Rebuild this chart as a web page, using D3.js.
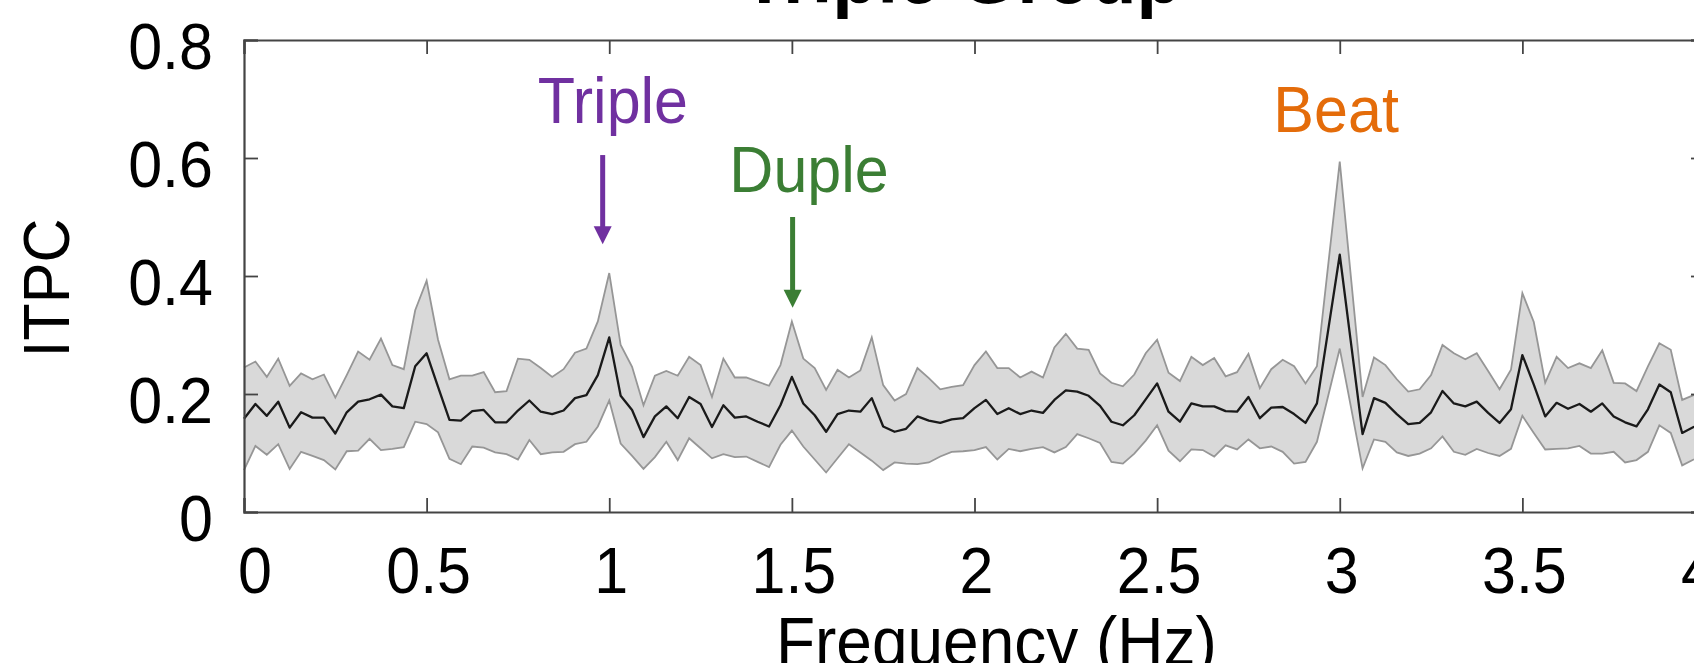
<!DOCTYPE html>
<html>
<head>
<meta charset="utf-8">
<script src="https://cdn.jsdelivr.net/npm/d3@7"></script>
<style>
  html, body { margin: 0; padding: 0; background: #fff; overflow: hidden; }
  svg { display: block; }
</style>
</head>
<body>
<svg id="chart" width="1694" height="663"></svg>
<script>
// ITPC spectrum, Triple group. One sample every 1/32 Hz from 0 to 4 Hz.
const freqStep = 1 / 32;

const itpcMean = [
  0.158, 0.183, 0.163, 0.187, 0.143, 0.169, 0.160, 0.160, 0.133, 0.169,
  0.187, 0.191, 0.199, 0.179, 0.176, 0.247, 0.269, 0.212, 0.156, 0.155,
  0.171, 0.173, 0.152, 0.152, 0.172, 0.189, 0.170, 0.166, 0.172, 0.193,
  0.198, 0.232, 0.296, 0.197, 0.173, 0.127, 0.162, 0.179, 0.159, 0.195,
  0.183, 0.144, 0.181, 0.160, 0.162, 0.153, 0.145, 0.181, 0.229, 0.184,
  0.164, 0.136, 0.166, 0.172, 0.170, 0.193, 0.145, 0.136, 0.141, 0.162,
  0.155, 0.151, 0.157, 0.159, 0.176, 0.190, 0.166, 0.176, 0.166, 0.172,
  0.168, 0.190, 0.206, 0.204, 0.197, 0.180, 0.153, 0.147, 0.164, 0.191,
  0.218, 0.170, 0.153, 0.184, 0.179, 0.179, 0.171, 0.170, 0.195, 0.159,
  0.177, 0.178, 0.166, 0.151, 0.184, 0.310, 0.436, 0.284, 0.132, 0.193,
  0.185, 0.166, 0.149, 0.151, 0.169, 0.205, 0.184, 0.179, 0.187, 0.168,
  0.151, 0.174, 0.266, 0.216, 0.162, 0.185, 0.175, 0.183, 0.170, 0.184,
  0.162, 0.152, 0.145, 0.174, 0.216, 0.203, 0.134, 0.144, 0.150
];

const itpcUpper = [
  0.245, 0.255, 0.229, 0.260, 0.214, 0.235, 0.225, 0.233, 0.194, 0.232,
  0.272, 0.258, 0.294, 0.249, 0.242, 0.342, 0.392, 0.292, 0.225, 0.231,
  0.231, 0.237, 0.203, 0.205, 0.260, 0.258, 0.244, 0.229, 0.242, 0.270,
  0.277, 0.323, 0.405, 0.283, 0.246, 0.181, 0.231, 0.239, 0.231, 0.263,
  0.249, 0.195, 0.260, 0.228, 0.228, 0.221, 0.214, 0.249, 0.323, 0.260,
  0.244, 0.207, 0.241, 0.228, 0.240, 0.296, 0.215, 0.189, 0.200, 0.244,
  0.227, 0.208, 0.212, 0.215, 0.249, 0.272, 0.244, 0.244, 0.228, 0.238,
  0.228, 0.279, 0.302, 0.277, 0.275, 0.235, 0.219, 0.213, 0.233, 0.269,
  0.292, 0.236, 0.222, 0.263, 0.249, 0.261, 0.230, 0.237, 0.268, 0.210,
  0.242, 0.258, 0.247, 0.218, 0.247, 0.421, 0.594, 0.394, 0.195, 0.262,
  0.249, 0.225, 0.204, 0.208, 0.232, 0.283, 0.269, 0.259, 0.269, 0.239,
  0.208, 0.241, 0.371, 0.322, 0.219, 0.263, 0.244, 0.252, 0.244, 0.274,
  0.219, 0.218, 0.205, 0.247, 0.286, 0.275, 0.190, 0.198, 0.205
];

const itpcLower = [
  0.071, 0.112, 0.097, 0.115, 0.073, 0.102, 0.095, 0.088, 0.072, 0.103,
  0.104, 0.124, 0.105, 0.107, 0.110, 0.153, 0.149, 0.135, 0.090, 0.081,
  0.111, 0.109, 0.101, 0.098, 0.089, 0.122, 0.098, 0.101, 0.102, 0.115,
  0.119, 0.145, 0.189, 0.116, 0.095, 0.073, 0.093, 0.119, 0.088, 0.125,
  0.108, 0.091, 0.098, 0.093, 0.094, 0.085, 0.076, 0.114, 0.138, 0.111,
  0.089, 0.067, 0.091, 0.115, 0.101, 0.087, 0.071, 0.084, 0.082, 0.081,
  0.084, 0.094, 0.102, 0.103, 0.105, 0.110, 0.089, 0.107, 0.103, 0.107,
  0.110, 0.101, 0.110, 0.132, 0.125, 0.117, 0.085, 0.082, 0.099, 0.121,
  0.147, 0.104, 0.086, 0.106, 0.105, 0.094, 0.113, 0.106, 0.123, 0.108,
  0.111, 0.102, 0.082, 0.085, 0.119, 0.198, 0.277, 0.176, 0.074, 0.123,
  0.119, 0.101, 0.095, 0.099, 0.108, 0.128, 0.102, 0.097, 0.107, 0.100,
  0.095, 0.107, 0.163, 0.134, 0.106, 0.107, 0.108, 0.112, 0.099, 0.099,
  0.102, 0.084, 0.088, 0.102, 0.147, 0.134, 0.079, 0.089, 0.095
];

const xTicks = [0, 0.5, 1, 1.5, 2, 2.5, 3, 3.5, 4];
const yTicks = [0, 0.2, 0.4, 0.6, 0.8];

// annotations: label, colour, text position (Hz, ITPC), arrow (Hz, from, to) or null
const annoLabels = ["Triple", "Duple", "Beat"];
const annoColors = ["#7030a0", "#3b7e34", "#e46c0a"];
const annoTextHz = [1.01, 1.547, 2.99];
const annoTextY = [0.66, 0.542, 0.644];
const annoArrowHz = [0.982, 1.502, null];
const annoArrowFrom = [0.605, 0.5, null];
const annoArrowTo = [0.454, 0.346, null];

const font = "'Liberation Sans', Arial, Helvetica, sans-serif";
const stretch = 1.06; // source figure text is a bit taller than it is wide

const svg = d3.select("#chart");

// plot box runs past the right edge of the window, as in the source picture
const x = d3.scaleLinear().domain([0, 4]).range([244, 1705]);
const y = d3.scaleLinear().domain([0, 0.8]).range([512, 40]);

const data = itpcMean.map((m, i) => ({
  f: i * freqStep, m: m, hi: itpcUpper[i], lo: itpcLower[i]
}));

const addText = (parent, px, py, str, size, anchor, color, weight) => {
  return parent.append("text")
    .attr("transform", `translate(${px},${py}) scale(1,${stretch})`)
    .attr("text-anchor", anchor)
    .attr("font-family", font)
    .attr("font-size", size)
    .attr("font-weight", weight || "normal")
    .attr("fill", color)
    .text(str);
};

// confidence band
svg.append("path")
  .datum(data)
  .attr("fill", "#d9d9d9")
  .attr("stroke", "none")
  .attr("d", d3.area().x(d => x(d.f)).y0(d => y(d.lo)).y1(d => y(d.hi)));

svg.append("path")
  .datum(data)
  .attr("fill", "none")
  .attr("stroke", "#969696")
  .attr("stroke-width", 1.8)
  .attr("d", d3.line().x(d => x(d.f)).y(d => y(d.hi)));

svg.append("path")
  .datum(data)
  .attr("fill", "none")
  .attr("stroke", "#969696")
  .attr("stroke-width", 1.8)
  .attr("d", d3.line().x(d => x(d.f)).y(d => y(d.lo)));

// mean
svg.append("path")
  .datum(data)
  .attr("fill", "none")
  .attr("stroke", "#1a1a1a")
  .attr("stroke-width", 2.3)
  .attr("stroke-linejoin", "round")
  .attr("d", d3.line().x(d => x(d.f)).y(d => y(d.m)));

// box axes, ticks pointing inwards on all four sides
const axisColor = "#444";
const tickLen = 14;

const bottomAxis = svg.append("g")
  .attr("transform", `translate(0,${y(0)})`)
  .call(d3.axisBottom(x).tickValues(xTicks).tickSize(-tickLen).tickFormat(""));
const topAxis = svg.append("g")
  .attr("transform", `translate(0,${y(0.8)})`)
  .call(d3.axisTop(x).tickValues(xTicks).tickSize(-tickLen).tickFormat(""));
const leftAxis = svg.append("g")
  .attr("transform", `translate(${x(0)},0)`)
  .call(d3.axisLeft(y).tickValues(yTicks).tickSize(-tickLen).tickFormat(""));
const rightAxis = svg.append("g")
  .attr("transform", `translate(${x(4)},0)`)
  .call(d3.axisRight(y).tickValues(yTicks).tickSize(-tickLen).tickFormat(""));

[bottomAxis, topAxis, leftAxis, rightAxis].forEach(g => {
  g.select(".domain").attr("stroke", axisColor).attr("stroke-width", 2.2);
  g.selectAll(".tick line").attr("stroke", axisColor).attr("stroke-width", 1.8);
});

// tick labels (the end labels sit a little inside their ticks in the source)
const labelNudge = t => (t === 0 ? 11 : t === 4 ? -7 : 2);
xTicks.forEach(t => {
  addText(svg, x(t) + labelNudge(t), 593, d3.format("")(t), 61, "middle", "#000");
});
yTicks.forEach(t => {
  addText(svg, 213, y(t) + 29, d3.format("")(t), 61, "end", "#000");
});

// axis titles
addText(svg, 0, 0, "ITPC", 61, "middle", "#000")
  .attr("transform", `translate(69,288) rotate(-90) scale(1,${stretch})`);
addText(svg, x(2.06), 665, "Frequency (Hz)", 64, "middle", "#000");

// chart title, mostly above the window
addText(svg, x(1.965), 3, "Triple Group", 74, "middle", "#000", "bold");

// annotations
annoLabels.forEach((label, i) => {
  addText(svg, x(annoTextHz[i]), y(annoTextY[i]), label, 61, "middle", annoColors[i]);
  if (annoArrowHz[i] === null) return;
  const ax = x(annoArrowHz[i]);
  const y0 = y(annoArrowFrom[i]);
  const y1 = y(annoArrowTo[i]);
  const headLen = 18, headHalf = 9;
  svg.append("line")
    .attr("x1", ax).attr("x2", ax)
    .attr("y1", y0).attr("y2", y1 - headLen + 1)
    .attr("stroke", annoColors[i])
    .attr("stroke-width", 5);
  svg.append("path")
    .attr("d", `M${ax - headHalf},${y1 - headLen} L${ax + headHalf},${y1 - headLen} L${ax},${y1} Z`)
    .attr("fill", annoColors[i]);
});
</script>
</body>
</html>
